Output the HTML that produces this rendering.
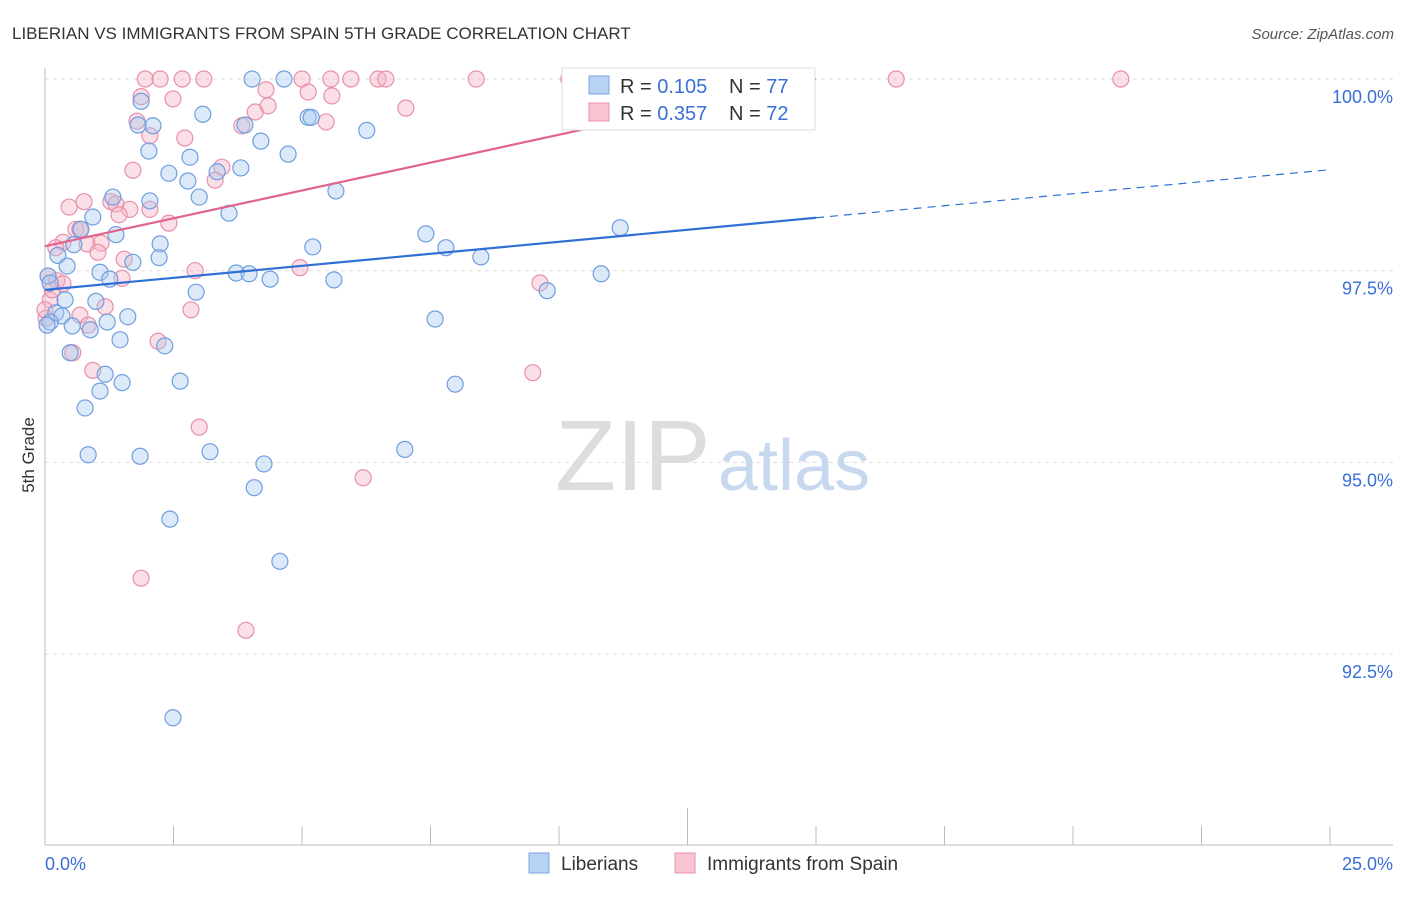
<!DOCTYPE html>
<html><head><meta charset="utf-8"><style>
body{margin:0;background:#fff;font-family:"Liberation Sans",sans-serif;}
svg text{font-family:"Liberation Sans",sans-serif;}
</style></head><body>
<svg id="chart" width="1406" height="892">
<text x="12" y="39" font-size="17" fill="#333">LIBERIAN VS IMMIGRANTS FROM SPAIN 5TH GRADE CORRELATION CHART</text>
<text x="1394" y="39" font-size="15" fill="#555" text-anchor="end" font-style="italic">Source: ZipAtlas.com</text>
<text x="34" y="455" font-size="17" fill="#333" text-anchor="middle" transform="rotate(-90 34 455)">5th Grade</text>
<g id="grid"></g>
<text x="555" y="490" font-size="100" fill="#ddd" font-family="Liberation Serif">ZIP</text>
<text x="718" y="490" font-size="72" fill="#c8d8ee">atlas</text>
<g id="pts"></g>
<g id="lines"></g>
<g>
<rect x="562" y="68" width="253" height="62" fill="#fff" stroke="#ddd"/>
<rect x="589" y="76" width="20" height="18" fill="#b8d2f4" stroke="#7aa5e0"/>
<rect x="589" y="103" width="20" height="18" fill="#f8c4d2" stroke="#e890a8"/>
<text x="620" y="93" font-size="20" fill="#333">R = <tspan fill="#3a6fd8">0.105</tspan></text>
<text x="729" y="93" font-size="20" fill="#333">N = <tspan fill="#3a6fd8">77</tspan></text>
<text x="620" y="120" font-size="20" fill="#333">R = <tspan fill="#3a6fd8">0.357</tspan></text>
<text x="729" y="120" font-size="20" fill="#333">N = <tspan fill="#3a6fd8">72</tspan></text>
</g>
<g>
<rect x="529" y="853" width="20" height="20" fill="#b8d2f4" stroke="#7aa5e0"/>
<text x="561" y="870" font-size="19" fill="#333">Liberians</text>
<rect x="675" y="853" width="20" height="20" fill="#f8c4d2" stroke="#e890a8"/>
<text x="707" y="870" font-size="19" fill="#333">Immigrants from Spain</text>
</g>
</svg>
<script>
const xTickLabels=["0.0%","25.0%"];
const yTicks=[100,97.5,95,92.5];
const yTickLabels=["100.0%","97.5%","95.0%","92.5%"];
const blueX=[4.03,4.65,1.87,3.07,5.12,5.18,2.10,1.81,3.89,6.26,4.20,2.02,2.82,4.73,2.41,3.35,3.81,2.78,5.66,1.32,3.00,2.04,3.58,0.93,0.70,1.38,11.19,7.41,2.24,5.21,7.80,0.56,0.25,8.48,2.22,0.43,1.71,1.07,3.72,3.97,4.38,1.26,5.62,10.82,9.77,2.94,0.06,0.39,0.99,0.21,0.33,1.61,1.21,0.10,7.59,0.53,0.88,1.46,2.33,0.49,1.17,2.63,1.50,7.98,1.07,0.78,7.00,3.21,0.84,1.85,4.26,4.07,2.43,4.57,2.49,0.04,0.10];
const blueY=[100,100,99.71,99.54,99.50,99.50,99.39,99.40,99.40,99.33,99.19,99.06,98.98,99.02,98.77,98.79,98.84,98.67,98.54,98.46,98.46,98.41,98.25,98.20,98.04,97.97,98.06,97.98,97.85,97.81,97.80,97.84,97.70,97.68,97.67,97.56,97.61,97.48,97.47,97.46,97.39,97.39,97.38,97.46,97.24,97.22,97.43,97.12,97.10,96.95,96.91,96.90,96.83,96.83,96.87,96.78,96.73,96.60,96.52,96.43,96.15,96.06,96.04,96.02,95.93,95.71,95.17,95.14,95.10,95.08,94.98,94.67,94.26,93.71,91.67,96.79,97.34];
const pinkX=[1.95,2.24,2.67,3.09,5.00,5.56,5.95,6.48,6.63,8.39,10.19,11.95,16.56,20.93,1.87,2.49,4.30,5.12,5.58,7.02,4.09,4.34,1.79,3.83,5.47,2.04,2.72,3.44,3.31,1.71,0.76,0.47,1.28,1.38,1.65,2.04,1.44,2.41,0.60,0.68,0.35,0.82,1.09,0.21,1.03,1.54,2.92,4.96,9.63,0.06,0.23,0.35,1.50,1.17,2.84,0.10,0.68,0.84,0.02,2.20,0.54,0.93,9.49,3.00,6.19,1.87,3.91,0.14,0.00];
const pinkY=[100,100,100,100,100,100,100,100,100,100,100,100,100,100,99.77,99.74,99.86,99.83,99.78,99.62,99.57,99.65,99.45,99.39,99.44,99.26,99.23,98.85,98.68,98.81,98.40,98.33,98.40,98.37,98.30,98.30,98.23,98.12,98.04,98.04,97.87,97.85,97.86,97.80,97.74,97.65,97.50,97.54,97.34,97.43,97.37,97.33,97.40,97.03,96.99,97.12,96.92,96.79,96.88,96.58,96.43,96.20,96.17,95.46,94.80,93.49,92.81,97.25,96.99];
const blueLine=[97.25,0.0627];
const pinkLine=[97.82,0.1453];
const NS="http://www.w3.org/2000/svg";
const X=v=>45+v/25*1285;
const Y=v=>79+(100-v)/2.5*191.7;
function mk(tag,attrs,parent){const e=document.createElementNS(NS,tag);for(const k in attrs)e.setAttribute(k,attrs[k]);parent.appendChild(e);return e;}
const grid=document.getElementById('grid');
yTicks.forEach((t,i)=>{
 const l=mk('line',{x1:45,x2:1393,y1:Y(t),y2:Y(t),stroke:'#ddd','stroke-dasharray':'4,4'},grid);
 
 
 const tx=mk('text',{x:1393,y:Y(t)+24,'font-size':18,fill:'#3a6fd8','text-anchor':'end'},grid);
 tx.textContent=yTickLabels[i];
 
 
});
const ax=mk('line',{x1:45,x2:45,y1:68,y2:845,stroke:'#bbb'},grid);


const bx=mk('line',{x1:45,x2:1393,y1:845,y2:845,stroke:'#bbb'},grid);


for(let i=1;i<=10;i++){const t=mk('line',{x1:X(i*2.5),x2:X(i*2.5),y1:i==5?808:826,y2:845,stroke:'#bbb'},grid);
 
 }
[[0,'start',45],[25,'end',1393]].forEach((a,i)=>{const t=mk('text',{x:a[2],y:870,'font-size':18,fill:'#3a6fd8','text-anchor':a[1]},grid);t.textContent=xTickLabels[i];
 
 });
const pts=document.getElementById('pts');
function dots(xs,ys,fill,stroke,name){xs.forEach((x,i)=>{const c=mk('circle',{cx:X(x),cy:Y(ys[i]),r:8,fill:fill,'fill-opacity':0.4,stroke:stroke,'stroke-width':1.2},pts);
 
 });}
dots(pinkX,pinkY,'#f4b0c4','#e890a8','spain-point');
dots(blueX,blueY,'#a8c8f0','#6f9ee0','liberian-point');
const lines=document.getElementById('lines');
const f=(L,x)=>L[0]+L[1]*x;
let l1=mk('line',{x1:X(0),y1:Y(f(blueLine,0)),x2:X(15),y2:Y(f(blueLine,15)),stroke:'#2f6fd6','stroke-width':2.2},lines);


let l2=mk('line',{x1:X(15),y1:Y(f(blueLine,15)),x2:X(25),y2:Y(f(blueLine,25)),stroke:'#2f6fd6','stroke-width':1.2,'stroke-dasharray':'8,6'},lines);


let l3=mk('line',{x1:X(0),y1:Y(f(pinkLine,0)),x2:X(15),y2:Y(f(pinkLine,15)),stroke:'#e0648c','stroke-width':2.2},lines);


</script>
</body></html>
